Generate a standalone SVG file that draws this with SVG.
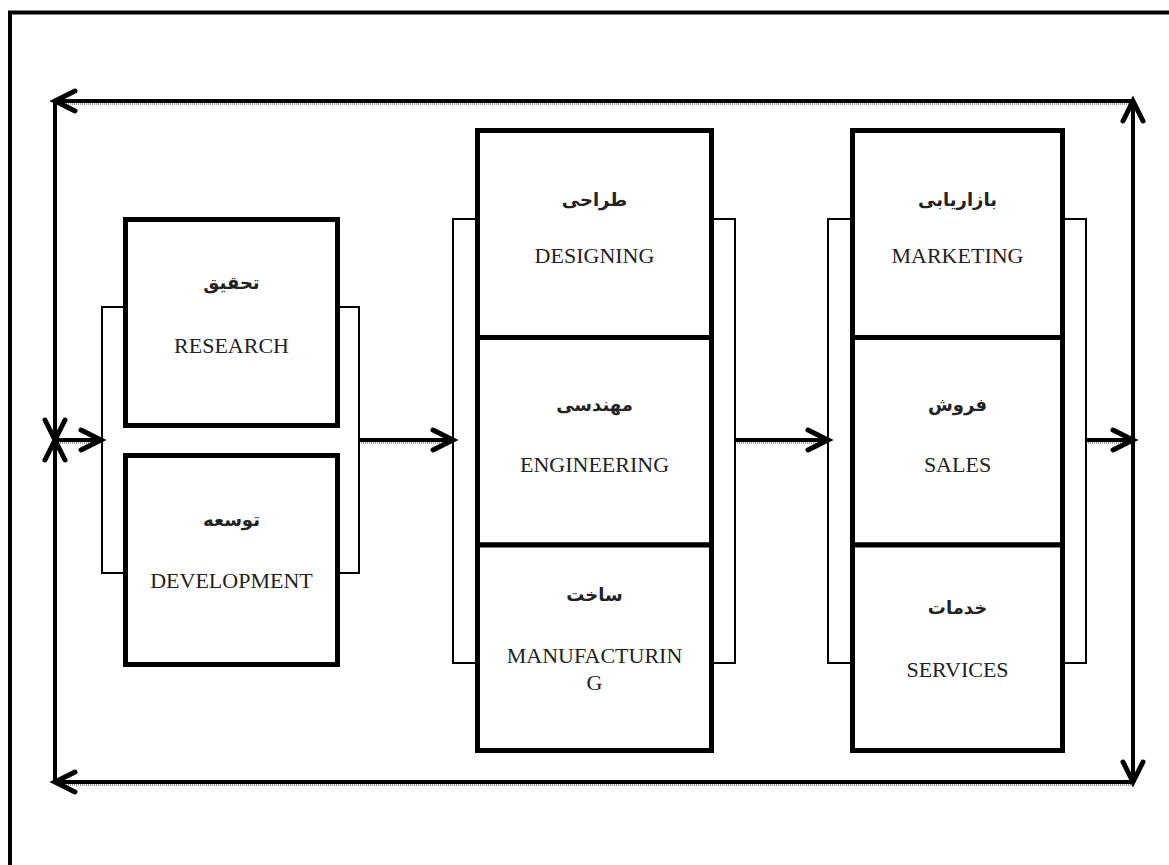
<svg xmlns="http://www.w3.org/2000/svg" width="1169" height="865" viewBox="0 0 1169 865">
<style>
.frame{fill:none;stroke:#000;stroke-width:4}
.conn{fill:none;stroke:#000;stroke-width:4}
.shadow{fill:none;stroke:#999;stroke-width:2;stroke-dasharray:1 1}
.br{fill:none;stroke:#000;stroke-width:2}
.box{fill:#fff;stroke:#000;stroke-width:5}
.en{font-family:"Liberation Serif","Times New Roman",serif;font-size:22px;fill:#222;text-anchor:middle}
.fa{font-family:"DejaVu Sans","Noto Sans",sans-serif;font-size:18px;font-weight:bold;fill:#222;text-anchor:middle}
</style>
<defs>
<marker id="ah" markerUnits="userSpaceOnUse" markerWidth="30" markerHeight="30" viewBox="-26 -14 30 28" refX="0" refY="0" orient="auto" overflow="visible">
<path d="M-20 -10 L0 0 L-20 10" fill="none" stroke="#000" stroke-width="5" stroke-linecap="round" stroke-linejoin="miter"/>
</marker>
</defs>
<rect width="1169" height="865" fill="#fff"/>
<rect class="frame" x="10" y="12.5" width="1200" height="900"/>
<g id="connectors">
<path class="shadow" d="M1131 104 H60"/>
<path class="shadow" d="M1131 785 H60"/>
<path class="shadow" d="M60 443 H98"/>
<path class="shadow" d="M361 443 H450"/>
<path class="shadow" d="M737 443 H825"/>
<path class="shadow" d="M1088 443 H1130"/>
<path class="conn" d="M1133 440 V101" marker-end="url(#ah)"/>
<path class="conn" d="M1133 101 H55" marker-end="url(#ah)"/>
<path class="conn" d="M55 101 V440" marker-end="url(#ah)"/>
<path class="conn" d="M1133 440 V782" marker-end="url(#ah)"/>
<path class="conn" d="M1133 782 H55" marker-end="url(#ah)"/>
<path class="conn" d="M55 782 V440" marker-end="url(#ah)"/>
<path class="conn" d="M55 440 H101" marker-end="url(#ah)"/>
<path class="conn" d="M359 440 H453" marker-end="url(#ah)"/>
<path class="conn" d="M735 440 H828" marker-end="url(#ah)"/>
<path class="conn" d="M1086 440 H1133" marker-end="url(#ah)"/>
<path class="br" d="M125 307 H102 V573 H125"/>
<path class="br" d="M337 307 H359 V573 H337"/>
<path class="br" d="M477 219 H453 V663 H477"/>
<path class="br" d="M711 219 H735 V663 H711"/>
<path class="br" d="M852 219 H828 V663 H852"/>
<path class="br" d="M1062 219 H1086 V663 H1062"/>
</g>
<g id="research">
<rect class="box" x="125.5" y="219.5" width="212" height="206"/>
<text class="fa" x="231.5" y="289">تحقیق</text>
<text class="en" x="231.5" y="353">RESEARCH</text>
</g>
<g id="development">
<rect class="box" x="125.5" y="455.5" width="212" height="209"/>
<text class="fa" x="231.5" y="526">توسعه</text>
<text class="en" x="231.5" y="588">DEVELOPMENT</text>
</g>
<g id="designing">
<rect class="box" x="477.5" y="130.5" width="234" height="207"/>
<text class="fa" x="594.5" y="206">طراحی</text>
<text class="en" x="594.5" y="263">DESIGNING</text>
</g>
<g id="engineering">
<rect class="box" x="477.5" y="337.5" width="234" height="207.5"/>
<text class="fa" x="594.5" y="411">مهندسی</text>
<text class="en" x="594.5" y="472">ENGINEERING</text>
</g>
<g id="manufacturing">
<rect class="box" x="477.5" y="545" width="234" height="205.5"/>
<text class="fa" x="594.5" y="601">ساخت</text>
<text class="en" x="594.5" y="663">MANUFACTURIN</text>
<text class="en" x="594.5" y="690">G</text>
</g>
<g id="marketing">
<rect class="box" x="852.5" y="130.5" width="210" height="207"/>
<text class="fa" x="957.5" y="206">بازاریابی</text>
<text class="en" x="957.5" y="263">MARKETING</text>
</g>
<g id="sales">
<rect class="box" x="852.5" y="337.5" width="210" height="207.5"/>
<text class="fa" x="957.5" y="411">فروش</text>
<text class="en" x="957.5" y="472">SALES</text>
</g>
<g id="services">
<rect class="box" x="852.5" y="545" width="210" height="205.5"/>
<text class="fa" x="957.5" y="614">خدمات</text>
<text class="en" x="957.5" y="677">SERVICES</text>
</g>
</svg>
